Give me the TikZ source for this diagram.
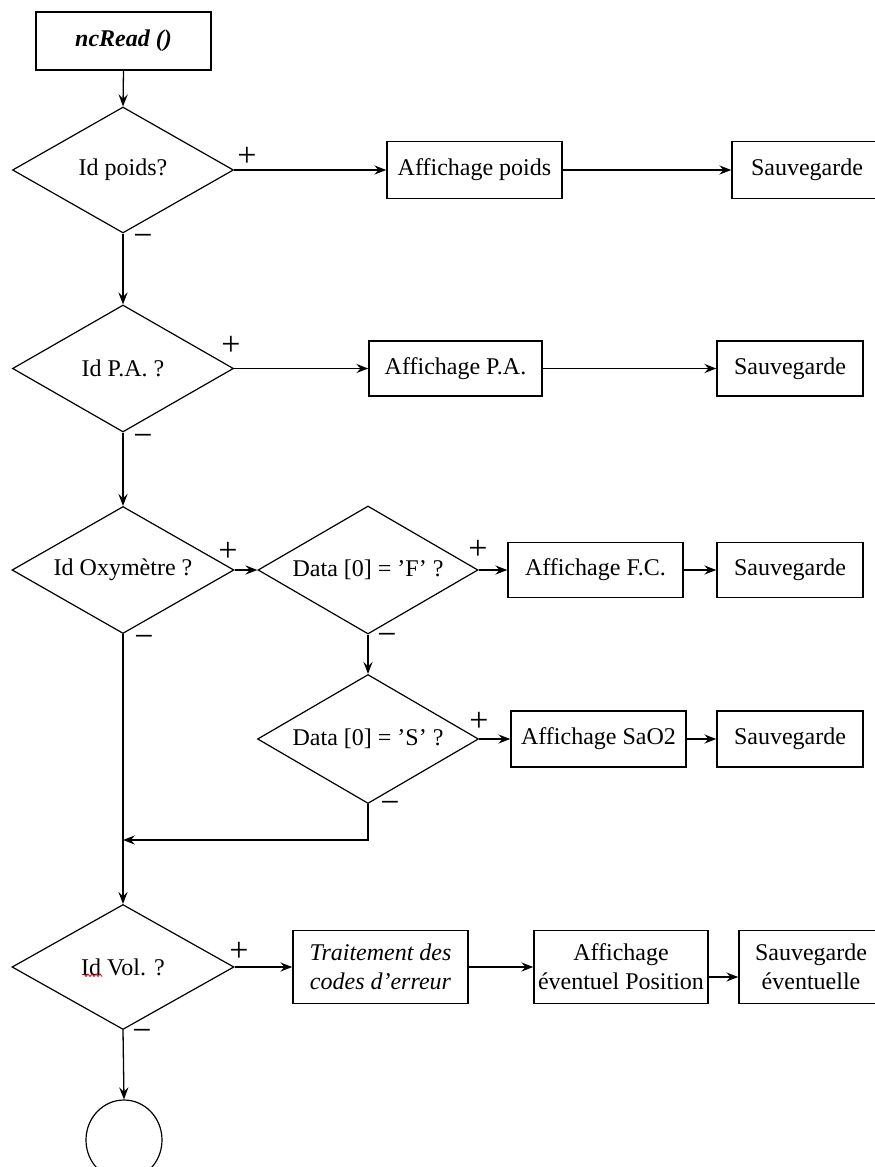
\documentclass[tikz,border=0pt]{standalone}
\usepackage{fontspec}
\setmainfont{Liberation Serif}
\usetikzlibrary{shapes.geometric,arrows.meta}
\begin{document}
\begin{tikzpicture}[x=0.5pt,y=-0.5pt,
  every node/.style={font=\fontsize{12}{14.5}\selectfont},
  box/.style={draw,rectangle,inner sep=0pt,line width=0.75pt,align=center},
  dec/.style={draw,diamond,inner sep=0pt,line width=0.6pt},
  lbl/.style={inner sep=0pt},
  sgn/.style={inner sep=0pt,font=\fontsize{17}{17}\selectfont},
  arr/.style={line width=0.65pt,-{Stealth[length=6pt,width=4.6pt,inset=2.2pt]}}]
\useasboundingbox (0,0) rectangle (874,1167);

% start
\node[box,minimum width=175*0.5pt,minimum height=58*0.5pt] (nc) at (123.5,41) {\textbf{\textit{ncRead ()}}};

% decisions
\node[dec,minimum width=221*0.5pt,minimum height=126*0.5pt] (d1) at (123,170) {};
\node[lbl] (d1t) at (d1) {Id poids?};
\node[dec,minimum width=221*0.5pt,minimum height=127*0.5pt] (d2) at (123,368.5) {};
\node[lbl] (d2t) at (d2) {Id P.A. ?};
\node[dec,minimum width=222*0.5pt,minimum height=127*0.5pt] (d3) at (123,570) {};
\node[lbl] (d3t) at (d3) {Id Oxymètre ?};
\node[dec,minimum width=220*0.5pt,minimum height=128*0.5pt] (d4) at (368,570) {};
\node[lbl] (d4t) at (d4) {Data [0] = ’F’ ?};
\node[dec,minimum width=221*0.5pt,minimum height=129*0.5pt] (d5) at (368,739) {};
\node[lbl] (d5t) at (d5) {Data [0] = ’S’ ?};
\node[dec,minimum width=222*0.5pt,minimum height=125*0.5pt] (d6) at (123,967) {};
\node[lbl] (d6t) at (d6) {Id Vol. ?};

% boxes
\node[box,minimum width=175*0.5pt,minimum height=57*0.5pt] (ap) at (474.5,170) {Affichage poids};
\node[box,minimum width=150*0.5pt,minimum height=57*0.5pt] (s1) at (807,170) {Sauvegarde};
\node[box,minimum width=173*0.5pt,minimum height=55*0.5pt] (apa) at (455.5,368.5) {Affichage P.A.};
\node[box,minimum width=146*0.5pt,minimum height=55*0.5pt] (s2) at (790,368.5) {Sauvegarde};
\node[box,minimum width=175*0.5pt,minimum height=55*0.5pt] (afc) at (595.5,570) {Affichage F.C.};
\node[box,minimum width=146*0.5pt,minimum height=55*0.5pt] (s3) at (790,570) {Sauvegarde};
\node[box,minimum width=175*0.5pt,minimum height=56*0.5pt] (asa) at (598.5,739) {Affichage SaO2};
\node[box,minimum width=146*0.5pt,minimum height=56*0.5pt] (s4) at (790,739) {Sauvegarde};
\node[box,minimum width=175*0.5pt,minimum height=73*0.5pt] (tr) at (380.5,967) {\itshape Traitement des\\\itshape codes d'erreur};
\node[box,minimum width=174*0.5pt,minimum height=73*0.5pt] (aep) at (621,967) {Affichage\\éventuel Position};
\node[box,minimum width=144*0.5pt,minimum height=73*0.5pt] (se) at (811,967) {Sauvegarde\\éventuelle};

% end
\node[draw,ellipse,line width=0.6pt,inner sep=0pt,minimum width=76*0.5pt,minimum height=80*0.5pt] (end) at (124,1140) {};

% signs
\node[sgn] (p1) at (247,157) {+};
\node[sgn] (m1) at (143,240) {−};
\node[sgn] (p2) at (231,346) {+};
\node[sgn] (m2) at (143,440) {−};
\node[sgn] (p3) at (228,552) {+};
\node[sgn] (m3) at (144,641) {−};
\node[sgn] (p4) at (478,550) {+};
\node[sgn] (m4) at (387,639) {−};
\node[sgn] (p5) at (479,722) {+};
\node[sgn] (m5) at (390,807) {−};
\node[sgn] (p6) at (239,952) {+};
\node[sgn] (m6) at (142,1035) {−};

% spell-check squiggle
\draw[red,line width=0.4pt] (84,974)--(86,976.5)--(88,974)--(90,976.5)--(92,974)--(94,976.5)--(96,974)--(98,976.5)--(100,974)--(102,976.5);

% connectors
\draw[arr] (nc.south) -- (d1.north);
\draw[arr] (d1.east) -- (ap.west);
\draw[arr] (ap.east) -- (s1.west);
\draw[arr] (d1.south) -- (d2.north);
\draw[arr] (d2.east) -- (apa.west);
\draw[arr] (apa.east) -- (s2.west);
\draw[arr] (d2.south) -- (d3.north);
\draw[arr] (d3.east) -- (d4.west);
\draw[arr] (d4.east) -- (afc.west);
\draw[arr] (afc.east) -- (s3.west);
\draw[arr] (d4.south) -- (d5.north);
\draw[arr] (d5.east) -- (asa.west);
\draw[arr] (asa.east) -- (s4.west);
\coordinate (jn) at (123,840);
\draw[arr] (d5.south) |- (jn);
\draw[arr] (d3.south) -- (d6.north);
\draw[arr] (d6.east) -- (tr.west);
\draw[arr] (tr.east) -- (aep.west);
\draw[arr] ([yshift=-5pt]aep.east) -- ([yshift=-5pt]se.west);
\draw[arr] (d6.south) -- (end.north);
\end{tikzpicture}
\end{document}
